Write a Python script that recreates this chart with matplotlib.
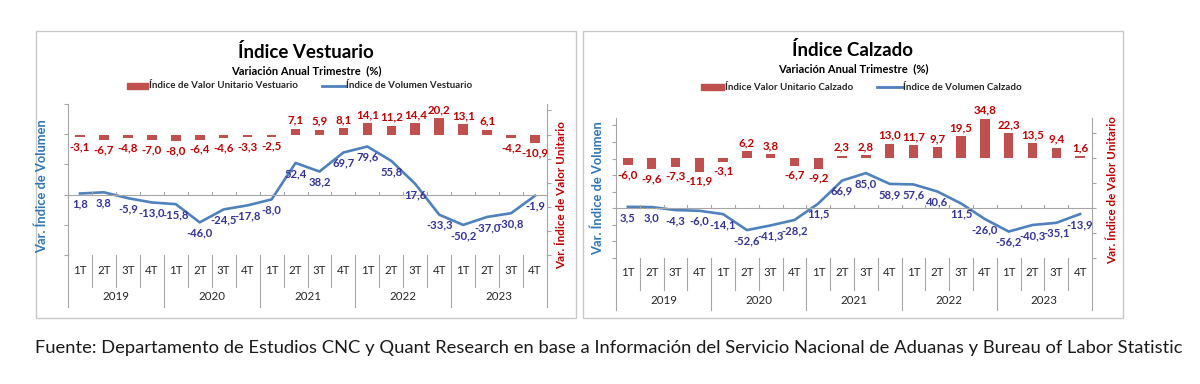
import numpy as np
import matplotlib
matplotlib.use('Agg')
import matplotlib.pyplot as plt
import matplotlib.transforms as mtransforms
from matplotlib.patches import Rectangle
from matplotlib.lines import Line2D

plt.rcParams['font.family'] = ['Lato', 'DejaVu Sans']

W, H = 1200, 384

trimestres = ['1T', '2T', '3T', '4T']
anios = ['2019', '2020', '2021', '2022', '2023']

# Vestuario
vest_volumen = [1.8, 3.8, -5.9, -13.0, -15.8, -46.0, -24.5, -17.8, -8.0, 52.4,
                38.2, 69.7, 79.6, 55.8, 17.6, -33.3, -50.2, -37.0, -30.8, -1.9]
vest_valor = [-3.1, -6.7, -4.8, -7.0, -8.0, -6.4, -4.6, -3.3, -2.5, 7.1,
              5.9, 8.1, 14.1, 11.2, 14.4, 20.2, 13.1, 6.1, -4.2, -10.9]

# Calzado
calz_volumen = [3.5, 3.0, -4.3, -6.0, -14.1, -52.6, -41.3, -28.2, 11.5, 66.9,
                85.0, 58.9, 57.6, 40.6, 11.5, -26.0, -56.2, -40.3, -35.1, -13.9]
calz_valor = [-6.0, -9.6, -7.3, -11.9, -3.1, 6.2, 3.8, -6.7, -9.2, 2.3,
              2.8, 13.0, 11.7, 9.7, 19.5, 34.8, 22.3, 13.5, 9.4, 1.6]

ROJO_BARRA = '#c0504d'
ROJO_TEXTO = '#c00000'
AZUL_LINEA = '#4f81bd'
AZUL_TEXTO = '#33339a'
AZUL_EJE = '#2e75b6'
GRIS = '#a6a6a6'

fig = plt.figure(figsize=(W / 100, H / 100), dpi=100)


def fx(x):
    return x / W


def fy(y):
    return 1 - y / H


def pt(p):
    # pixeles -> puntos
    return p * 0.72


def fmt(v):
    return f'{v:.1f}'.replace('.', ',')


def dibujar(caja, area, titulo, nom_barra, nom_linea, volumen, valor,
            lim_vol, ticks_vol, lim_val, ticks_val, leyenda, ejes_y):
    x0, top, x1, bot = area
    alto = bot - top

    # marco del grafico
    fig.add_artist(Rectangle((fx(caja[0]), fy(caja[3])), fx(caja[2]) - fx(caja[0]),
                             fy(caja[1]) - fy(caja[3]), fill=False,
                             edgecolor='#c8c8c8', lw=1, transform=fig.transFigure))

    ax = fig.add_axes([fx(x0), fy(bot), fx(x1) - fx(x0), fy(top) - fy(bot)])
    ax2 = ax.twinx()
    ax.set_zorder(ax2.get_zorder() + 1)
    ax.patch.set_visible(False)

    n = len(volumen)
    xs = np.arange(n)
    ax2.bar(xs, valor, width=0.4, color=ROJO_BARRA)
    ax.plot(xs, volumen, color=AZUL_LINEA, lw=1.9)

    ax.set_xlim(-0.5, n - 0.5)
    ax.set_ylim(lim_vol)
    ax2.set_ylim(lim_val)
    ax.set_yticks(ticks_vol)
    ax2.set_yticks(ticks_val)
    ax.set_xticks([])
    ax.tick_params(axis='y', length=3, color=GRIS, labelleft=False)
    ax2.tick_params(axis='y', length=3, color=GRIS, labelright=False)
    for a in (ax, ax2):
        a.spines['top'].set_visible(False)
        a.spines['bottom'].set_visible(False)
        a.spines['left'].set_color(GRIS)
        a.spines['right'].set_color(GRIS)
    ax.spines['right'].set_visible(False)
    ax2.spines['left'].set_visible(False)

    # eje de categorias en cero
    ax.axhline(0, color=GRIS, lw=0.8)
    dy = (lim_vol[1] - lim_vol[0]) * 3 / alto
    for b in np.arange(-0.5, n, 1):
        ax.plot([b, b], [0, dy], color=GRIS, lw=0.8)

    # etiquetas de datos
    for i, v in enumerate(volumen):
        ax.annotate(fmt(v), (i, v), xytext=(0, -pt(5)), textcoords='offset points',
                    ha='center', va='top', fontsize=8.1, fontweight='bold',
                    color=AZUL_TEXTO)
    for i, v in enumerate(valor):
        if v >= 0:
            ax2.annotate(fmt(v), (i, v), xytext=(0, pt(3)), textcoords='offset points',
                         ha='center', va='bottom', fontsize=8.3, fontweight='bold',
                         color=ROJO_TEXTO)
        else:
            ax2.annotate(fmt(v), (i, v), xytext=(0, -pt(4)), textcoords='offset points',
                         ha='center', va='top', fontsize=8.3, fontweight='bold',
                         color=ROJO_TEXTO)

    # categorias de dos niveles
    trans = mtransforms.blended_transform_factory(ax.transData, ax.transAxes)
    for i in range(n):
        ax.annotate(trimestres[i % 4], (i, 0), xycoords=trans, xytext=(0, -pt(15)),
                    textcoords='offset points', ha='center', va='center',
                    fontsize=8.3, color='#262626')
    for k, anio in enumerate(anios):
        ax.annotate(anio, (4 * k + 1.5, 0), xycoords=trans, xytext=(0, -pt(42)),
                    textcoords='offset points', ha='center', va='center',
                    fontsize=8.3, color='#262626')
    for b in range(n + 1):
        largo = 52 if b % 4 == 0 else 32
        ax.plot([b - 0.5, b - 0.5], [0, -largo / alto], transform=trans,
                clip_on=False, color=GRIS, lw=0.8)

    # titulos
    cx = (caja[0] + caja[2]) / 2
    fig.text(fx(cx), fy(leyenda[0]), titulo, ha='center', va='center',
             fontsize=13.5, fontweight='bold')
    fig.text(fx(cx), fy(leyenda[1]), 'Variación Anual Trimestre  (%)', ha='center',
             va='center', fontsize=8, fontweight='bold')

    # leyenda
    ly, pa, pb, la, lb = leyenda[2:]
    fig.add_artist(Rectangle((fx(pa), fy(ly + 3)), fx(pb) - fx(pa), fy(ly - 3) - fy(ly + 3),
                             color=ROJO_BARRA, transform=fig.transFigure))
    fig.text(fx(pb + 1), fy(ly), nom_barra, ha='left', va='center', fontsize=7,
             fontweight='bold', color='#262626')
    fig.add_artist(Line2D([fx(la), fx(lb)], [fy(ly), fy(ly)], color=AZUL_LINEA, lw=2,
                          transform=fig.transFigure))
    fig.text(fx(lb + 1), fy(ly), nom_linea, ha='left', va='center', fontsize=7,
             fontweight='bold', color='#262626')

    # titulos de ejes
    fig.text(fx(ejes_y[0]), fy(ejes_y[1]), 'Var. Índice de Volumen', rotation=90,
             ha='center', va='center', fontsize=9.3, fontweight='bold', color=AZUL_EJE)
    fig.text(fx(ejes_y[2]), fy(ejes_y[3]), 'Var. Índice de Valor Unitario', rotation=90,
             ha='center', va='center', fontsize=8.4, fontweight='bold', color=ROJO_TEXTO)


dibujar((36, 31, 576, 318), (68, 104, 547, 255), 'Índice Vestuario',
        'Índice de Valor Unitario Vestuario', 'Índice de Volumen Vestuario',
        vest_volumen, vest_valor,
        (-100, 150), np.arange(-100, 151, 50), (-150, 38), np.arange(-150, 31, 30),
        (52, 71, 86, 127, 148, 322, 345), (42, 186, 562, 195))

dibujar((583, 31, 1123, 318), (616, 118, 1092, 258), 'Índice Calzado',
        'Índice Valor Unitario Calzado', 'Índice de Volumen Calzado',
        calz_volumen, calz_valor,
        (-120, 218), np.arange(-120, 201, 40), (-86.5, 35.5), np.arange(-88, 23, 22),
        (50, 69, 87, 701, 724, 877, 902), (598, 188, 1113, 190))

fig.text(fx(35), fy(348), 'Fuente: Departamento de Estudios CNC y Quant Research en base a '
         'Información del Servicio Nacional de Aduanas y Bureau of Labor Statistic',
         ha='left', va='center', fontsize=13.2, color='#1a1a1a')

fig.savefig('out.png', dpi=100)
